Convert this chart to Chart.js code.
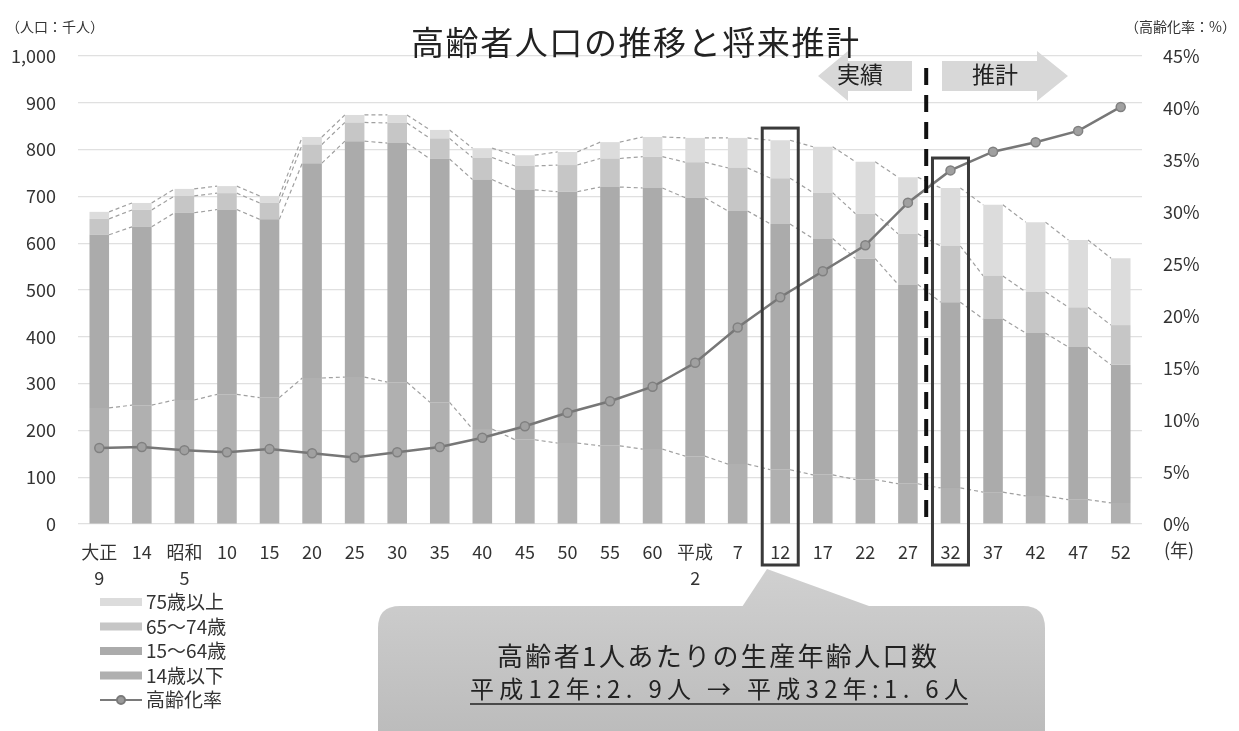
<!DOCTYPE html>
<html>
<head>
<meta charset="utf-8">
<script src="https://cdn.jsdelivr.net/npm/chart.js@4.4.0/dist/chart.umd.min.js"></script>
<style>
  html, body { margin: 0; padding: 0; background: #fff; }
  #wrap { width: 1239px; height: 731px; }
</style>
</head>
<body>
<div id="wrap"><canvas id="chart" width="1239" height="731"></canvas></div>
<script>
// 年（和暦）
const years = [['大正', '9'], '14', ['昭和', '5'], '10', '15', '20', '25', '30', '35', '40', '45', '50', '55', '60',
  ['平成', '2'], '7', '12', '17', '22', '27', '32', '37', '42', '47', '52'];

// 人口（千人）
const under14   = [248, 254, 265, 277, 270, 312, 314, 303, 260, 203, 180, 173, 167, 160, 145, 128, 116, 105, 95, 86, 77, 68, 60, 52, 45];
const age15to64 = [370, 381, 400, 395, 381, 459, 504, 511, 520, 533, 534, 537, 553, 558, 552, 541, 525, 505, 472, 426, 397, 370, 348, 326, 295];
const age65to74 = [34, 36, 36, 35, 35, 40, 40, 43, 44, 47, 51, 57, 61, 67, 76, 92, 98, 98, 96, 108, 120, 92, 88, 85, 85];
const age75plus = [15, 15, 15, 15, 15, 16, 16, 17, 18, 20, 23, 28, 35, 42, 52, 64, 81, 98, 111, 121, 124, 152, 149, 144, 143];

// 高齢化率（%）
const agingRate = [7.3, 7.4, 7.1, 6.9, 7.2, 6.8, 6.4, 6.9, 7.4, 8.3, 9.4, 10.7, 11.8, 13.2, 15.5, 18.9, 21.8, 24.3, 26.8, 30.9, 34.0, 35.8, 36.7, 37.8, 40.1];

const legendItems = ['75歳以上', '65～74歳', '15～64歳', '14歳以下', '高齢化率'];
const FONT = '"Noto Sans CJK JP", "Noto Sans", sans-serif';

const barColors = {
  under14: '#b0b0b0',
  age15to64: '#ababab',
  age65to74: '#c6c6c6',
  age75plus: '#dcdcdc'
};

// Excelの区分線のような破線
const seriesLines = {
  id: 'seriesLines',
  beforeDatasetsDraw(chart) {
    const ctx = chart.ctx;
    ctx.save();
    ctx.strokeStyle = '#a0a0a0';
    ctx.lineWidth = 1.2;
    ctx.setLineDash([4, 3]);
    for (let d = 0; d < 4; d++) {
      const meta = chart.getDatasetMeta(d);
      for (let i = 0; i < meta.data.length - 1; i++) {
        const a = meta.data[i], b = meta.data[i + 1];
        ctx.beginPath();
        ctx.moveTo(a.x + a.width / 2, a.y);
        ctx.lineTo(b.x - b.width / 2, b.y);
        ctx.stroke();
      }
    }
    ctx.restore();
  }
};

function roundRect(ctx, x, y, w, h, r) {
  ctx.beginPath();
  ctx.moveTo(x + r, y);
  ctx.lineTo(x + w - r, y);
  ctx.quadraticCurveTo(x + w, y, x + w, y + r);
  ctx.lineTo(x + w, y + h - r);
  ctx.quadraticCurveTo(x + w, y + h, x + w - r, y + h);
  ctx.lineTo(x + r, y + h);
  ctx.quadraticCurveTo(x, y + h, x, y + h - r);
  ctx.lineTo(x, y + r);
  ctx.quadraticCurveTo(x, y, x + r, y);
  ctx.closePath();
}

// 指定幅に字間を広げて左端から描く
function spacedText(ctx, text, left, cy, width, size) {
  ctx.font = size + 'px ' + FONT;
  ctx.letterSpacing = '0px';
  const w = ctx.measureText(text).width;
  const gap = Math.max(0, (width - w) / (text.length - 1));
  ctx.letterSpacing = gap.toFixed(2) + 'px';
  ctx.textAlign = 'left';
  ctx.fillText(text, left, cy);
  ctx.letterSpacing = '0px';
}

const annotations = {
  id: 'annotations',
  afterDraw(chart) {
    const ctx = chart.ctx;
    const xs = chart.scales.x, ys = chart.scales.y;
    ctx.save();

    // タイトル・軸単位
    ctx.fillStyle = '#222';
    ctx.textBaseline = 'middle';
    spacedText(ctx, '高齢者人口の推移と将来推計', 411, 42, 448, 33);
    ctx.fillStyle = '#333';
    ctx.font = '14px ' + FONT;
    ctx.textAlign = 'left';
    ctx.fillText('（人口：千人）', 6, 27);
    ctx.textAlign = 'right';
    ctx.fillText('（高齢化率：%）', 1236, 27);
    ctx.font = '18px ' + FONT;
    ctx.textAlign = 'left';
    ctx.fillText('(年)', 1164, 550);

    // 実績／推計の矢印
    ctx.fillStyle = '#d8d8d8';
    ctx.beginPath();
    ctx.moveTo(818, 76); ctx.lineTo(848, 51); ctx.lineTo(848, 61); ctx.lineTo(912, 61);
    ctx.lineTo(912, 91); ctx.lineTo(848, 91); ctx.lineTo(848, 101); ctx.closePath();
    ctx.fill();
    ctx.beginPath();
    ctx.moveTo(942, 61); ctx.lineTo(1037, 61); ctx.lineTo(1037, 51); ctx.lineTo(1068, 76);
    ctx.lineTo(1037, 101); ctx.lineTo(1037, 91); ctx.lineTo(942, 91); ctx.closePath();
    ctx.fill();
    ctx.fillStyle = '#222';
    ctx.font = '23px ' + FONT;
    ctx.textAlign = 'center';
    ctx.fillText('実績', 860, 74);
    ctx.fillText('推計', 995, 74);

    // 実績と推計の境界
    const xb = (xs.getPixelForValue(19) + xs.getPixelForValue(20)) / 2 - 3;
    ctx.strokeStyle = '#111';
    ctx.lineWidth = 4;
    ctx.setLineDash([17, 10]);
    ctx.beginPath();
    ctx.moveTo(xb, 68);
    ctx.lineTo(xb, ys.bottom);
    ctx.stroke();
    ctx.setLineDash([]);

    // 平成12年・32年の枠
    ctx.strokeStyle = '#3a3a3a';
    ctx.lineWidth = 3;
    [[16, 846], [20, 782]].forEach(([idx, top]) => {
      const cx = xs.getPixelForValue(idx);
      const ty = ys.getPixelForValue(top);
      ctx.strokeRect(cx - 18, ty, 36, 565 - ty);
    });

    // 吹き出し
    const grad = ctx.createLinearGradient(0, 570, 0, 731);
    grad.addColorStop(0, '#d0d0d0');
    grad.addColorStop(1, '#bcbcbc');
    ctx.fillStyle = grad;
    roundRect(ctx, 378, 606, 667, 150, 22);
    ctx.fill();
    ctx.beginPath();
    ctx.moveTo(740, 610); ctx.lineTo(767, 569); ctx.lineTo(880, 610); ctx.closePath();
    ctx.fill();
    ctx.fillStyle = '#222';
    spacedText(ctx, '高齢者1人あたりの生産年齢人口数', 497, 656, 440, 26);
    spacedText(ctx, '平成12年:2. 9人 → 平成32年:1. 6人', 470, 689, 498, 24);
    ctx.strokeStyle = '#222';
    ctx.lineWidth = 1.5;
    ctx.beginPath();
    ctx.moveTo(470, 704);
    ctx.lineTo(968, 704);
    ctx.stroke();

    // 凡例
    const swatches = [barColors.age75plus, barColors.age65to74, barColors.age15to64, barColors.under14];
    ctx.font = '19px ' + FONT;
    ctx.textAlign = 'left';
    legendItems.forEach((label, i) => {
      const yy = 602 + i * 24.5;
      if (i < 4) {
        ctx.fillStyle = swatches[i];
        ctx.fillRect(100, yy - 4, 42, 8);
      } else {
        ctx.strokeStyle = '#7a7a7a';
        ctx.lineWidth = 2;
        ctx.beginPath();
        ctx.moveTo(100, yy); ctx.lineTo(142, yy);
        ctx.stroke();
        ctx.fillStyle = '#9a9a9a';
        ctx.beginPath();
        ctx.arc(121, yy, 4, 0, Math.PI * 2);
        ctx.fill();
        ctx.stroke();
      }
      ctx.fillStyle = '#333';
      ctx.fillText(label, 146, yy);
    });

    ctx.restore();
  }
};

new Chart(document.getElementById('chart'), {
  type: 'bar',
  data: {
    labels: years,
    datasets: [
      { label: '14歳以下', data: under14, backgroundColor: barColors.under14, stack: 'pop', order: 2 },
      { label: '15～64歳', data: age15to64, backgroundColor: barColors.age15to64, stack: 'pop', order: 2 },
      { label: '65～74歳', data: age65to74, backgroundColor: barColors.age65to74, stack: 'pop', order: 2 },
      { label: '75歳以上', data: age75plus, backgroundColor: barColors.age75plus, stack: 'pop', order: 2 },
      {
        type: 'line',
        label: '高齢化率',
        data: agingRate,
        yAxisID: 'y2',
        borderColor: '#777',
        borderWidth: 2.5,
        pointRadius: 4.5,
        pointBackgroundColor: '#a0a0a0',
        pointBorderColor: '#808080',
        pointBorderWidth: 1.5,
        tension: 0,
        order: 0
      }
    ]
  },
  options: {
    responsive: false,
    animation: false,
    devicePixelRatio: 1,
    layout: { padding: { top: 56, left: 0, right: 0, bottom: 0 } },
    datasets: { bar: { categoryPercentage: 1, barPercentage: 0.46 } },
    plugins: {
      legend: { display: false },
      tooltip: { enabled: false }
    },
    scales: {
      x: {
        stacked: true,
        grid: { display: false, drawTicks: false },
        border: { display: false },
        ticks: {
          color: '#333',
          padding: 15,
          maxRotation: 0,
          autoSkip: false,
          font: { family: FONT, size: 18, lineHeight: 1.45 }
        },
        afterFit(scale) { scale.height = 207; }
      },
      y: {
        stacked: true,
        min: 0,
        max: 1000,
        ticks: {
          stepSize: 100,
          color: '#333',
          padding: 22,
          font: { family: FONT, size: 18 },
          callback: v => v.toLocaleString('en-US')
        },
        grid: { color: '#e0e0e0', lineWidth: 1.2, drawTicks: false },
        border: { display: false },
        afterFit(scale) { scale.width = 78; }
      },
      y2: {
        position: 'right',
        min: 0,
        max: 45,
        ticks: {
          stepSize: 5,
          color: '#333',
          padding: 21,
          font: { family: FONT, size: 18 },
          callback: v => v + '%'
        },
        grid: { display: false, drawTicks: false },
        border: { display: false },
        afterFit(scale) { scale.width = 97; }
      }
    }
  },
  plugins: [seriesLines, annotations]
});
</script>
</body>
</html>
